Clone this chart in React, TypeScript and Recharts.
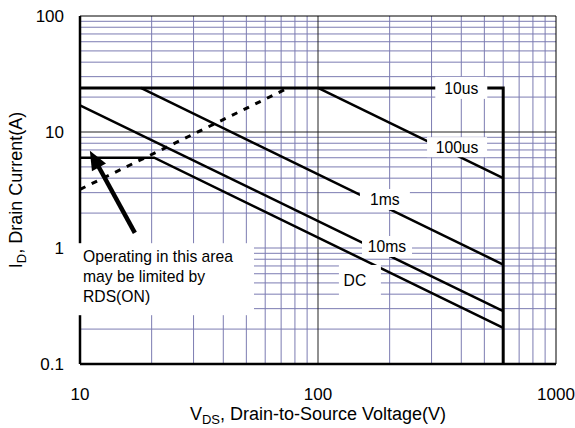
import React from 'react';
import { LineChart, Line, XAxis, YAxis, ReferenceLine, ReferenceDot } from 'recharts';

// axis ticks
const voltTicks = [10, 100, 1000];
const currentTicks = [0.1, 1, 10, 100];

// log grid values
const minorVolts = [20, 30, 40, 50, 60, 70, 80, 90, 200, 300, 400, 500, 600, 700, 800, 900];
const minorCurrents = [0.2, 0.3, 0.4, 0.5, 0.6, 0.7, 0.8, 0.9, 2, 3, 4, 5, 6, 7, 8, 9, 20, 30, 40, 50, 60, 70, 80, 90];
const majorVolts = [100];
const majorCurrents = [1, 10];

// SOA boundaries (V, A)
const limit10us = [
  { v: 10, i: 24 },
  { v: 600, i: 24 },
  { v: 600, i: 0.1 },
];
const limit100us = [
  { v: 100, i: 24 },
  { v: 600, i: 4 },
];
const limit1ms = [
  { v: 18, i: 24 },
  { v: 600, i: 0.72 },
];
const limit10ms = [
  { v: 10, i: 17 },
  { v: 600, i: 0.285 },
];
const limitDC = [
  { v: 10, i: 6 },
  { v: 20.5, i: 6 },
  { v: 600, i: 0.205 },
];
const rdsLimit = [
  { v: 10, i: 3.2 },
  { v: 75, i: 24 },
];

const curveLabels = [
  { text: '10us', v: 400, i: 24 },
  { text: '100us', v: 384, i: 7.4 },
  { text: '1ms', v: 191, i: 2.62 },
  { text: '10ms', v: 195, i: 1.03 },
  { text: 'DC', v: 150, i: 0.53 },
];

const noteLines = ['Operating in this area', 'may be limited by', 'RDS(ON)'];
const noteAnchor = { v: 10, i: 1.1 };
const arrowFrom = { v: 17, i: 1.35 };
const arrowTo = { v: 11, i: 6.9 };

const boxSize: Record<string, [number, number]> = {
  '10us': [52, 22],
  '100us': [60, 20],
  '1ms': [50, 21],
  '10ms': [50, 21],
  DC: [42, 30],
};

const GRID = '#7c7cb2';

const Arrow = (p: any) => {
  const { x1, y1, x2, y2 } = p;
  const dx = x2 - x1;
  const dy = y2 - y1;
  const len = Math.sqrt(dx * dx + dy * dy);
  const ux = dx / len;
  const uy = dy / len;
  const nx = -uy;
  const ny = ux;
  const L = 19;
  const W = 8;
  const bx = x2 - ux * L;
  const by = y2 - uy * L;
  return (
    <g>
      <line x1={x1} y1={y1} x2={x2 - ux * 12} y2={y2 - uy * 12} stroke="#000" strokeWidth={4.5} />
      <polygon
        points={`${x2},${y2} ${bx + nx * W},${by + ny * W} ${bx - nx * W},${by - ny * W}`}
        fill="#000"
      />
    </g>
  );
};

const App: React.FC = () => {
  return (
    <div
      style={{
        position: 'absolute',
        left: 0,
        top: 0,
        width: 575,
        height: 428,
        background: '#fff',
        fontFamily: '"Liberation Sans", Arial, sans-serif',
      }}
    >
      <LineChart width={575} height={428} margin={{ top: 16, right: 19, bottom: 0, left: 0 }}>
        <XAxis
          type="number"
          dataKey="v"
          scale="log"
          domain={[10, 1000]}
          allowDataOverflow
          ticks={voltTicks}
          axisLine={false}
          tickLine={false}
          tickSize={0}
          tickMargin={24}
          height={64}
          tick={{ fontSize: 17, fill: '#000' }}
          label={{
            content: (props: any) => {
              const vb = props.viewBox || {};
              return (
                <text x={vb.x + vb.width / 2} y={vb.y + 56} textAnchor="middle" fontSize={18} fill="#000">
                  V<tspan fontSize={13} dy={4}>DS</tspan>
                  <tspan dy={-4}>, Drain-to-Source Voltage(V)</tspan>
                </text>
              );
            },
          }}
        />
        <YAxis
          type="number"
          dataKey="i"
          scale="log"
          domain={[0.1, 100]}
          allowDataOverflow
          ticks={currentTicks}
          axisLine={false}
          tickLine={false}
          tickSize={0}
          tickMargin={16}
          width={80}
          tick={{ fontSize: 17, fill: '#000' }}
          tickFormatter={(val: number) => String(val)}
          label={{
            content: (props: any) => {
              const vb = props.viewBox || {};
              const cy = vb.y + vb.height / 2;
              return (
                <text x={22} y={cy} transform={`rotate(-90, 22, ${cy})`} textAnchor="middle" fontSize={18} fill="#000">
                  I<tspan fontSize={13} dy={4}>D</tspan>
                  <tspan dy={-4}>, Drain Current(A)</tspan>
                </text>
              );
            },
          }}
        />

        {minorVolts.map((v) => (
          <ReferenceLine key={'gv' + v} x={v} stroke={GRID} strokeWidth={1} />
        ))}
        {minorCurrents.map((c) => (
          <ReferenceLine key={'gh' + c} y={c} stroke={GRID} strokeWidth={1} />
        ))}
        {majorVolts.map((v) => (
          <ReferenceLine key={'mv' + v} x={v} stroke="#222" strokeWidth={1} />
        ))}
        {majorCurrents.map((c) => (
          <ReferenceLine key={'mh' + c} y={c} stroke={c === 10 ? '#222' : GRID} strokeWidth={1} />
        ))}

        {/* frame */}
        <ReferenceLine y={100} stroke="#000" strokeWidth={1} />
        <ReferenceLine x={1000} stroke="#000" strokeWidth={1} />
        <ReferenceLine x={10} stroke="#000" strokeWidth={2.5} />
        <ReferenceLine y={0.1} stroke="#000" strokeWidth={2.5} />

        <Line data={limit10us} dataKey="i" stroke="#000" strokeWidth={3} dot={false} isAnimationActive={false} />
        <Line data={limit100us} dataKey="i" stroke="#000" strokeWidth={2.5} dot={false} isAnimationActive={false} />
        <Line data={limit1ms} dataKey="i" stroke="#000" strokeWidth={2.5} dot={false} isAnimationActive={false} />
        <Line data={limit10ms} dataKey="i" stroke="#000" strokeWidth={2.5} dot={false} isAnimationActive={false} />
        <Line data={limitDC} dataKey="i" stroke="#000" strokeWidth={2.5} dot={false} isAnimationActive={false} />
        <Line
          data={rdsLimit}
          dataKey="i"
          stroke="#000"
          strokeWidth={3}
          strokeDasharray="6 7"
          dot={false}
          isAnimationActive={false}
        />

        {curveLabels.map((lb) => (
          <ReferenceDot
            key={lb.text}
            x={lb.v}
            y={lb.i}
            r={1}
            shape={(p: any) => {
              const [w, h] = boxSize[lb.text];
              return (
                <g>
                  <rect x={p.cx - w / 2} y={p.cy - h / 2} width={w} height={h} fill="#fff" />
                  <text
                    x={lb.text === 'DC' ? p.cx - 5 : p.cx}
                    y={p.cy}
                    dy="0.36em"
                    textAnchor="middle"
                    fontSize={15.7}
                    fill="#000"
                  >
                    {lb.text}
                  </text>
                </g>
              );
            }}
          />
        ))}

        <ReferenceDot
          x={noteAnchor.v}
          y={noteAnchor.i}
          r={1}
          shape={(p: any) => (
            <g>
              <rect x={p.cx - 2} y={p.cy} width={176} height={72} fill="#fff" />
              {noteLines.map((t, k) => (
                <text key={t} x={p.cx + 3} y={p.cy + 19 + k * 20} fontSize={15.7} fill="#000">
                  {t}
                </text>
              ))}
            </g>
          )}
        />

        <ReferenceLine
          segment={[
            { x: arrowFrom.v, y: arrowFrom.i },
            { x: arrowTo.v, y: arrowTo.i },
          ]}
          shape={Arrow}
        />
      </LineChart>
    </div>
  );
};

export default App;
